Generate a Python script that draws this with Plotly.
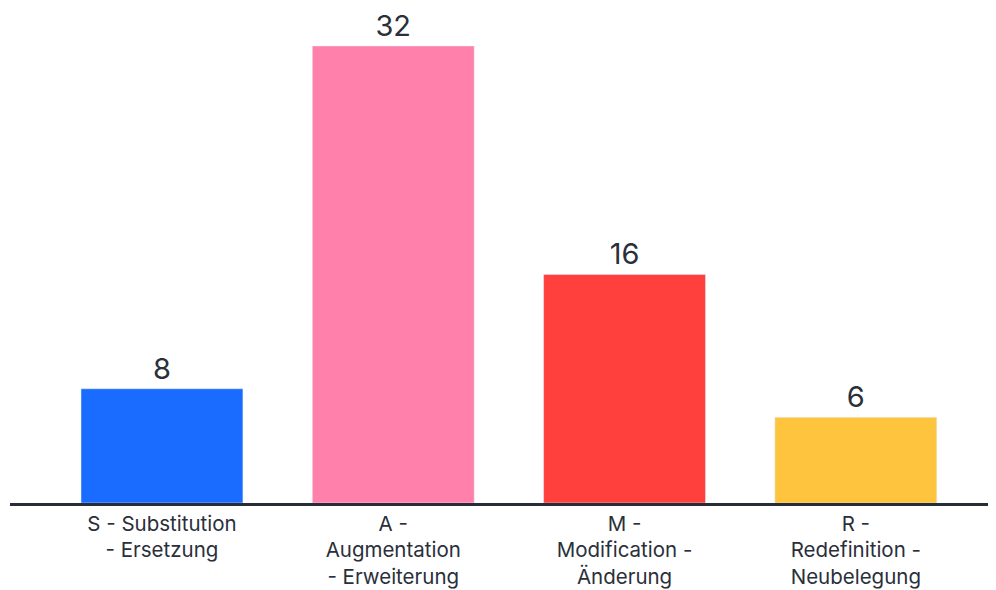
import plotly.graph_objects as go

categories = ["S - Substitution<br>- Ersetzung", "A -<br>Augmentation<br>- Erweiterung",
              "M -<br>Modification -<br>Änderung", "R -<br>Redefinition -<br>Neubelegung"]
values = [8, 32, 16, 6]
colors = ["#196CFF", "#FF80AB", "#FF403D", "#FFC43D"]

fig = go.Figure(go.Bar(
    x=list(range(len(categories))), y=values, marker_color=colors,
    text=[str(v) for v in values], textposition="outside", cliponaxis=False,
    textfont=dict(size=29, color="#2A2F3A", family="Inter"),
))
fig.update_layout(
    width=988, height=582, margin=dict(l=2, r=0, t=0, b=87),
    paper_bgcolor="white", plot_bgcolor="white", bargap=0.30,
    font=dict(family="Inter", color="#2A2F3A"), showlegend=False,
)
fig.update_xaxes(range=[-0.657, 3.606], tickmode="array", tickvals=list(range(len(categories))),
                 ticktext=categories, tickfont=dict(size=20.5, color="#2A2F3A"),
                 showline=True, linecolor="#272D38", linewidth=3, showgrid=False, ticks="",
                 zeroline=False)
fig.update_yaxes(range=[0, 34.66], visible=False, showgrid=False, zeroline=False)
fig.write_html("out.html")
